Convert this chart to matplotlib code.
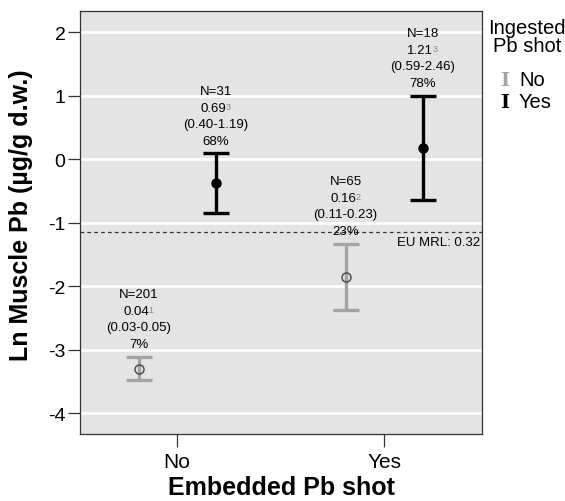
import matplotlib
matplotlib.use("Agg")
import matplotlib.pyplot as plt
from matplotlib.transforms import IdentityTransform

plt.rcParams['font.family'] = ['Liberation Sans', 'DejaVu Sans']

# Data
embedded = ["No", "Yes"]
ingested = ["No", "Yes"]
# order: (embedded No, ingested No), (No, Yes), (Yes, No), (Yes, Yes)
group_idx = [0, 0, 1, 1]
ingest_idx = [0, 1, 0, 1]
means = [-3.30, -0.38, -1.86, 0.18]
upper = [-3.11, 0.09, -1.33, 1.00]
lower = [-3.48, -0.855, -2.38, -0.64]
n_labels = ["N=201", "N=31", "N=65", "N=18"]
gm_labels = ["0.04", "0.69", "0.16", "1.21"]
sup_labels = ["1", "3", "2", "3"]
ci_labels = ["(0.03-0.05)", "(0.40-1.19)", "(0.11-0.23)", "(0.59-2.46)"]
pct_labels = ["7%", "68%", "23%", "78%"]
mrl_value = -1.14
mrl_label = "EU MRL: 0.32"
yticks = [2, 1, 0, -1, -2, -3, -4]

colors = ["#a3a3a3", "#000000"]
offset = 0.186

fig = plt.figure(figsize=(5.65, 5.02), dpi=100)
ax = fig.add_axes([80/565, 1-435/502, (482-80)/565, (435-12.3)/502])
ax.set_facecolor("#e4e4e4")

for yv in yticks:
    ax.axhline(yv, color="white", lw=2.0, zorder=1)

ax.axhline(mrl_value, color="#333333", lw=0.9, ls=(0, (3, 2.5)), zorder=2)
ax.text(1.465, mrl_value - 0.07, mrl_label, ha="right", va="top", fontsize=9.5, zorder=3)

num_texts = []
for i in range(len(means)):
    x = group_idx[i] + (offset if ingest_idx[i] == 1 else -offset)
    c = colors[ingest_idx[i]]
    ax.errorbar([x], [means[i]], yerr=[[means[i] - lower[i]], [upper[i] - means[i]]],
                fmt="none", ecolor=c, elinewidth=2.4, capsize=9.5, capthick=2.4, zorder=4)
    if ingest_idx[i] == 0:
        ax.plot([x], [means[i]], "o", ms=6.5, mfc="none", mec="#444444", mew=1.0, zorder=5)
    else:
        ax.plot([x], [means[i]], "o", ms=6.5, mfc="black", mec="black", zorder=5)
    lines = [n_labels[i], gm_labels[i], ci_labels[i], pct_labels[i]]
    base = 7
    step = 11.9
    for k, s in enumerate(lines):
        yoff = base + step * (len(lines) - 1 - k)
        xo = -1.8 if k == 1 else 0
        t = ax.annotate(s, xy=(x, upper[i]), xytext=(xo, yoff), textcoords="offset points",
                        ha="center", va="baseline", fontsize=9.5, zorder=6)
        if k == 1:
            num_texts.append(t)

ax.set_xlim(-0.469, 1.473)
ax.set_ylim(-4.33, 2.33)
ax.set_xticks([0, 1])
ax.set_xticklabels(embedded, fontsize=15)
ax.set_yticks(yticks)
ax.set_yticklabels([str(v) for v in yticks], fontsize=14)
ax.tick_params(axis="y", length=9, width=0.9, color="#333333", pad=1.5)
ax.tick_params(axis="x", length=9, width=0.9, color="#333333", pad=4)
for sp in ax.spines.values():
    sp.set_color("#333333")
    sp.set_linewidth(0.9)

ax.set_xlabel("Embedded Pb shot", fontsize=18, fontweight="bold", labelpad=3)
ax.set_ylabel("Ln Muscle Pb (µg/g d.w.)", fontsize=18, fontweight="bold")
ax.yaxis.set_label_coords(-0.117, 0.52)

# Legend (drawn as text)
fig.text(527/565, 1-28/502, "Ingested", ha="center", va="center", fontsize=14.5)
fig.text(527/565, 1-47/502, "Pb shot", ha="center", va="center", fontsize=14.5)
for j, lab in enumerate(ingested):
    yy = 1 - (81 + 22 * j) / 502
    fig.text(505/565, yy, "I", ha="center", va="center", fontsize=14,
             color=colors[j], family="DejaVu Serif", fontweight="bold")
    fig.text(519/565, yy, lab, ha="left", va="center", fontsize=14.5)

# superscripts placed next to the geometric mean labels
fig.canvas.draw()
renderer = fig.canvas.get_renderer()
for t, s in zip(num_texts, sup_labels):
    bb = t.get_window_extent(renderer)
    fig.text(bb.x1 - 0.3, bb.y1 - 7.5, s, transform=IdentityTransform(),
             ha="left", va="baseline", fontsize=6.5, color="#888888", zorder=6)

fig.savefig("out.png", dpi=100)
